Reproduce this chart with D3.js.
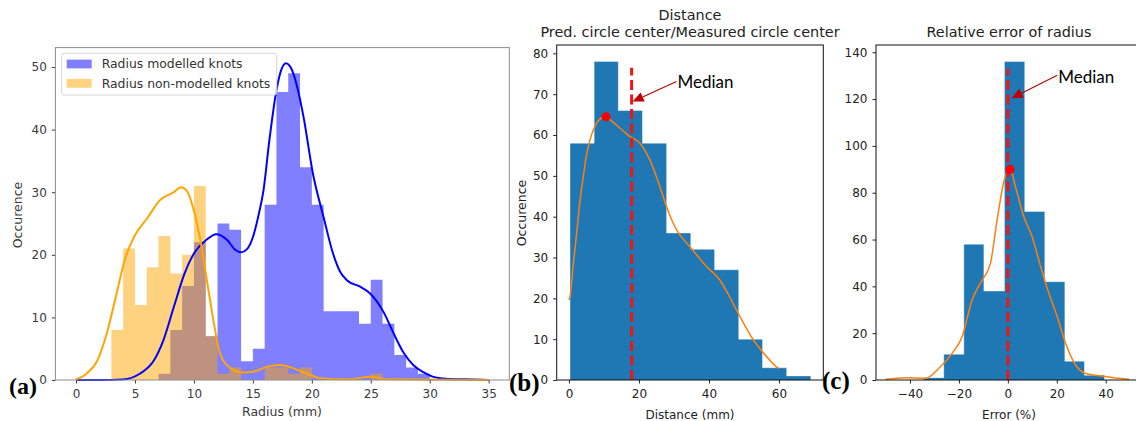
<!DOCTYPE html>
<html><head><meta charset="utf-8">
<script src="https://cdn.jsdelivr.net/npm/d3@7"></script>
<style>body{margin:0;background:#fff} svg{display:block;font-family:"DejaVu Sans",sans-serif}</style>
</head><body><svg id="c" width="1136" height="421"></svg>
<script>
// ---------- data ----------
// (a) radius histograms (1 mm bins)
const radiusEdges = [3,4,5,6,7,8,9,10,11,12,13,14,15,16,17,18,19,20,21,22,23,24,25,26,27,28,29,30];
const modelledCounts    = [0,0,0,0,1,8,15,22,7,25,24,3,5,28,46,49,34,28,11,11,11,9,16,9,4,2,1];
const nonModelledCounts = [8,21,12,18,23,17,20,31,7,1,2,0,0,2,2,1,2,0,0,0,0,0,1,0,0,0,0];
const modelledKde = [[0,0],[2,0],[4,0.1],[5.4,1.0],[6.6,3.1],[7.4,6.3],[8.3,11.7],[9.2,17.0],[10,20.2],[11,22.3],[11.9,23.3],[12.8,22.4],[13.5,20.8],[14,20.4],[14.5,20.9],[15,22.8],[15.5,26.5],[15.9,30.3],[16.4,38.3],[17,46.3],[17.4,49.5],[17.8,50.6],[18.3,49.6],[18.8,46.5],[19.3,42],[20.1,32.9],[21,26],[21.8,20.2],[22.4,17.3],[23,15.9],[24.1,14.9],[24.9,13.9],[25.5,12.6],[26.1,10.8],[26.9,7.6],[27.8,4.3],[28.6,2.4],[29.5,1.2],[30.3,0.5],[31.4,0.2],[32.9,0.1],[35,0]];
const nonModelledKde = [[0,0.1],[0.9,1.0],[1.8,3.1],[2.6,7.4],[3.3,12.7],[4.2,19.6],[4.9,22.8],[6.1,26],[7.1,28.7],[8.3,30],[8.9,30.8],[9.4,30.2],[10,27],[10.5,22.8],[11.1,15.9],[11.7,9.0],[12.2,4.3],[13.1,1.9],[14.2,1.2],[15,1.3],[16.2,2.1],[17.3,2.4],[18.4,1.9],[19.6,1.0],[20.7,0.3],[23,0.1],[25,0.5],[26.4,0.1],[35,0]];
const legendLabels = ["Radius modelled knots","Radius non-modelled knots"];
const ticksAx = [0,5,10,15,20,25,30,35];
const ticksAy = [0,10,20,30,40,50];

// (b) distance histogram
const distEdges  = [0.3,7.2,14.1,21.0,27.9,34.8,41.6,48.5,55.3,62.2,69.1];
const distCounts = [58,78,66,58,36,32,27,10,3,1];
const distKde = [[0,19.6],[0.3,20.4],[1.2,28],[2.2,35.9],[3.1,43.5],[4.1,49.8],[5,55],[6,58.8],[7.9,62.9],[9.5,64.3],[10.6,64.5],[12,63.6],[13.6,62.4],[15.5,61],[17.4,59.6],[20.3,58],[21.5,56.5],[23.1,53.9],[26,47.3],[27.9,42.4],[30.8,36.7],[34.6,32.6],[39.3,27.8],[43.1,24.5],[45.5,21],[47.9,17.1],[52.7,9.8],[56.5,5.7],[59.8,2.9],[60,2.8]];
const distMedian = 17.9, distMedianTop = 76.5;
const distPeak = [10.6, 64.5];
const distAnnot = {tip:[18.2,68.2], text:[31,73]};
const ticksBx = [0,20,40,60];
const ticksBy = [0,10,20,30,40,50,60,70,80];

// (c) relative error histogram
const errEdges  = [-34.4,-26.2,-18.0,-9.8,-1.4,6.9,15.1,23.3,31.3,39.5];
const errCounts = [1,11,58,38,136,72,42,8,2];
const errKde = [[-50,0.3],[-41.8,1],[-33.6,0.7],[-28.2,5],[-22.8,11.4],[-18.7,18.5],[-14.6,34.2],[-12,40],[-10.5,42.7],[-7.1,49.9],[-4.4,68.4],[-1.6,84.8],[0.4,89.7],[1.2,89.5],[3.1,82.6],[6.5,69.8],[9.9,61.3],[13.4,48.4],[16.8,37],[20.2,27],[23.6,15.7],[27.7,6.4],[31.7,2.8],[38.6,1.7],[45.4,0.7],[49.5,0.3]];
const errMedian = 0, errMedianTop = 133;
const errPeak = [0.9, 90];
const errAnnot = {tip:[1.55,120.4], text:[20.6,129.5]};
const ticksCx = [-40,-20,0,20,40];
const ticksCy = [0,20,40,60,80,100,120,140];

// ---------- drawing ----------
const svg = d3.select("#c");
const fmt = d3.format("d");

function histPath(x, y, edges, counts){
  const p = d3.path();
  counts.forEach((c,i)=>{ if(c>0) p.rect(x(edges[i]), y(c), x(edges[i+1])-x(edges[i]), y(0)-y(c)); });
  return p.toString();
}
function outlinePath(x, y, edges, counts){
  const p = d3.path();
  p.moveTo(x(edges[0]), y(0));
  counts.forEach((c,i)=>{ p.lineTo(x(edges[i]), y(c)); p.lineTo(x(edges[i+1]), y(c)); });
  p.lineTo(x(edges[edges.length-1]), y(0));
  return p.toString();
}
function axes(g, x, y, tx, ty, col, frameCol){
  const [x0,x1] = x.range(), [y0,y1] = y.range();
  const ax = g.append("g").attr("transform",`translate(0,${y0})`)
    .call(d3.axisBottom(x).tickValues(tx).tickFormat(fmt).tickSize(3.5).tickPadding(6).tickSizeOuter(0));
  const ay = g.append("g").attr("transform",`translate(${x0},0)`)
    .call(d3.axisLeft(y).tickValues(ty).tickFormat(fmt).tickSize(3.5).tickPadding(5).tickSizeOuter(0));
  [ax,ay].forEach(a=>{
    a.select(".domain").remove();
    a.selectAll("line").attr("stroke",col);
    a.selectAll("text").attr("fill",col).style("font-size","12px").style("font-family","DejaVu Sans");
  });
  g.append("rect").attr("x",x0).attr("y",y1).attr("width",x1-x0).attr("height",y0-y1)
    .attr("fill","none").attr("stroke",frameCol).attr("stroke-width",1);
}
function arrow(g, x1,y1,x2,y2,color){
  const dx=x2-x1, dy=y2-y1, L=Math.hypot(dx,dy), ux=dx/L, uy=dy/L;
  const hl=11, hw=5, bx=x2-ux*hl, by=y2-uy*hl;
  g.append("line").attr("x1",x1).attr("y1",y1).attr("x2",bx).attr("y2",by).attr("stroke",color).attr("stroke-width",1.2);
  g.append("path").attr("d",`M${x2},${y2}L${bx-uy*hw},${by+ux*hw}L${bx+uy*hw},${by-ux*hw}Z`).attr("fill",color);
}
const line = (x,y)=>d3.line().x(d=>x(d[0])).y(d=>y(d[1])).curve(d3.curveMonotoneX);

// ----- panel (a) -----
{
  const g = svg.append("g");
  const x = d3.scaleLinear().domain([-1.75,36.75]).range([55.4,509.3]);
  const y = d3.scaleLinear().domain([0,53.1]).range([380,47.6]);
  g.append("path").attr("d",histPath(x,y,radiusEdges,modelledCounts)).attr("fill","#0000ff").attr("fill-opacity",0.5);
  g.append("path").attr("d",histPath(x,y,radiusEdges,nonModelledCounts)).attr("fill","#ffa500").attr("fill-opacity",0.5);
  g.append("path").attr("d",line(x,y)(modelledKde)).attr("fill","none").attr("stroke","#0000ff").attr("stroke-width",2);
  g.append("path").attr("d",line(x,y)(nonModelledKde)).attr("fill","none").attr("stroke","#ffa500").attr("stroke-width",2);
  axes(g,x,y,ticksAx,ticksAy,"#3a3a3a","#8c8c8c");
  // legend
  const lg = g.append("g");
  lg.append("rect").attr("x",61.7).attr("y",53.3).attr("width",215).attr("height",41.7).attr("rx",2.5)
    .attr("fill","#fff").attr("fill-opacity",0.8).attr("stroke","#d6d6d6");
  const cols = ["#8080ff","#ffd280"];
  legendLabels.forEach((t,i)=>{
    lg.append("rect").attr("x",66.7).attr("y",59.6+i*19.3).attr("width",25).attr("height",8.8).attr("fill",cols[i]);
    lg.append("text").attr("x",101.7).attr("y",64+i*19.3).attr("dy","0.35em").text(t)
      .attr("fill","#333").style("font-size","12.4px");
  });
  g.append("text").attr("x",282).attr("y",416).attr("text-anchor","middle").text("Radius (mm)").attr("fill","#3a3a3a").style("font-size","12.5px");
  g.append("text").attr("transform","translate(22,215) rotate(-90)").attr("text-anchor","middle").text("Occurence").attr("fill","#3a3a3a").style("font-size","12.5px");
  g.append("text").attr("x",9).attr("y",394).text("(a)").style("font-family","Liberation Serif").style("font-weight","bold").style("font-size","24px");
}

// ----- panel (b) -----
{
  const g = svg.append("g");
  const x = d3.scaleLinear().domain([-3.5,72.66]).range([556.7,823.3]);
  const y = d3.scaleLinear().domain([0,82.05]).range([380,45]);
  g.append("path").attr("d",histPath(x,y,distEdges,distCounts)).attr("fill","#1f77b4");
  g.append("path").attr("d",outlinePath(x,y,distEdges,distCounts)).attr("fill","none")
    .attr("stroke","#ffffff").attr("stroke-opacity",0.4).attr("stroke-width",1);
  g.append("path").attr("d",line(x,y)(distKde)).attr("fill","none").attr("stroke","#ff7f0e").attr("stroke-width",1.5);
  g.append("line").attr("x1",x(distMedian)).attr("x2",x(distMedian)).attr("y1",y(0)).attr("y2",y(distMedianTop))
    .attr("stroke","#f01414").attr("stroke-width",3).attr("stroke-dasharray","10,4.5");
  g.append("circle").attr("cx",x(distPeak[0])).attr("cy",y(distPeak[1])).attr("r",4.5).attr("fill","#ff0000");
  axes(g,x,y,ticksBx,ticksBy,"#222","#111");
  arrow(g,x(distAnnot.text[0])-1,y(distAnnot.text[1])-0.5,x(distAnnot.tip[0]),y(distAnnot.tip[1]),"#c00000");
  g.append("text").attr("x",x(distAnnot.text[0])).attr("y",y(distAnnot.text[1])).attr("dy","0.35em").text("Median")
    .style("font-family","Lato").style("font-size","17px").attr("fill","#000");
  g.append("text").attr("x",690).attr("y",20).attr("text-anchor","middle").text("Distance").attr("fill","#222").style("font-size","14.4px");
  g.append("text").attr("x",690).attr("y",36.5).attr("text-anchor","middle").text("Pred. circle center/Measured circle center").attr("fill","#222").style("font-size","14.4px");
  g.append("text").attr("x",690).attr("y",419).attr("text-anchor","middle").text("Distance (mm)").attr("fill","#222").style("font-size","12px");
  g.append("text").attr("transform","translate(526,213) rotate(-90)").attr("text-anchor","middle").text("Occurence").attr("fill","#222").style("font-size","12.5px");
  g.append("text").attr("x",509).attr("y",391).text("(b)").style("font-family","Liberation Serif").style("font-weight","bold").style("font-size","25px");
}

// ----- panel (c) -----
{
  const g = svg.append("g");
  const x = d3.scaleLinear().domain([-53.9,56.1]).range([876,1145.1]);
  const y = d3.scaleLinear().domain([0,143.1]).range([380,45]);
  g.append("path").attr("d",histPath(x,y,errEdges,errCounts)).attr("fill","#1f77b4");
  g.append("path").attr("d",outlinePath(x,y,errEdges,errCounts)).attr("fill","none")
    .attr("stroke","#ffffff").attr("stroke-opacity",0.4).attr("stroke-width",1);
  g.append("path").attr("d",line(x,y)(errKde)).attr("fill","none").attr("stroke","#ff7f0e").attr("stroke-width",1.5);
  g.append("line").attr("x1",x(errMedian)).attr("x2",x(errMedian)).attr("y1",y(0)).attr("y2",y(errMedianTop))
    .attr("stroke","#f01414").attr("stroke-width",3).attr("stroke-dasharray","10,4.5");
  g.append("circle").attr("cx",x(errPeak[0])).attr("cy",y(errPeak[1])).attr("r",4.5).attr("fill","#ff0000");
  axes(g,x,y,ticksCx,ticksCy,"#222","#111");
  arrow(g,x(errAnnot.text[0])-1,y(errAnnot.text[1])-1.5,x(errAnnot.tip[0]),y(errAnnot.tip[1]),"#c00000");
  g.append("text").attr("x",x(errAnnot.text[0])).attr("y",y(errAnnot.text[1])).attr("dy","0.35em").text("Median")
    .style("font-family","Lato").style("font-size","17px").attr("fill","#000");
  g.append("text").attr("x",1009).attr("y",36.5).attr("text-anchor","middle").text("Relative error of radius").attr("fill","#222").style("font-size","14.4px");
  g.append("text").attr("x",1009).attr("y",419).attr("text-anchor","middle").text("Error (%)").attr("fill","#222").style("font-size","12px");
  g.append("text").attr("x",822).attr("y",389).text("(c)").style("font-family","Liberation Serif").style("font-weight","bold").style("font-size","25px");
}
</script></body></html>
